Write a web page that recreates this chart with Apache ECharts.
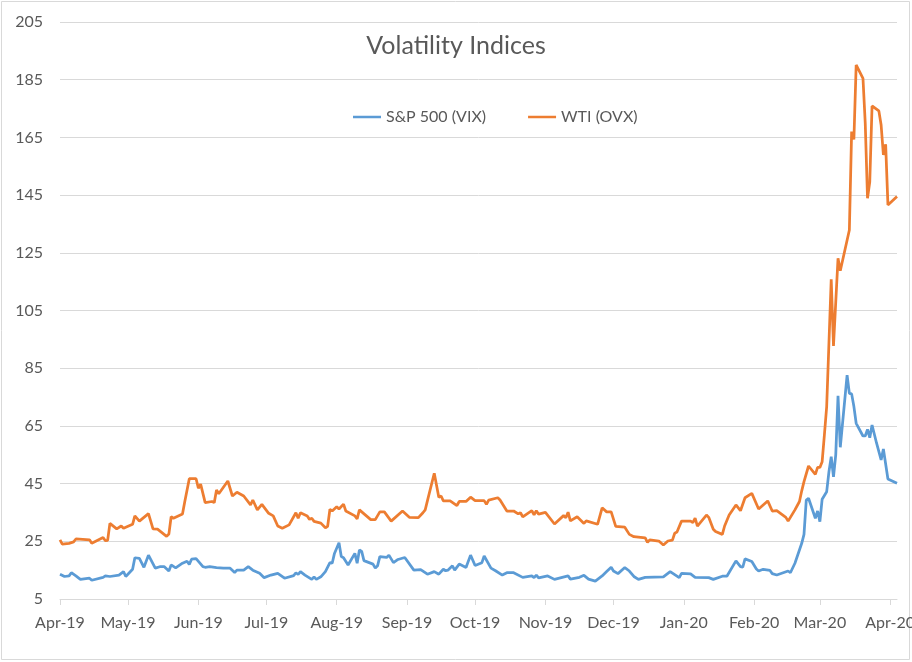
<!DOCTYPE html>
<html>
<head>
<meta charset="utf-8">
<script src="https://cdn.jsdelivr.net/npm/echarts@6/dist/echarts.min.js"></script>
<style>html,body{margin:0;padding:0;background:#fff}#chart{width:912px;height:662px}</style>
</head>
<body>
<div id="chart"></div>
<script>
const chartTitle = "Volatility Indices";
const seriesNames = ["S&P 500 (VIX)", "WTI (OVX)"];
const monthNames = ["Jan","Feb","Mar","Apr","May","Jun","Jul","Aug","Sep","Oct","Nov","Dec"];
const axisStart = "2019-04-01";
const axisEnd = "2020-04-04";

const vixDates = ["2019-04-01","2019-04-03","2019-04-05","2019-04-06","2019-04-08","2019-04-10","2019-04-14","2019-04-15","2019-04-20","2019-04-21","2019-04-23","2019-04-27","2019-04-29","2019-04-30",
"2019-05-03","2019-05-04","2019-05-06","2019-05-08","2019-05-10","2019-05-13","2019-05-15","2019-05-17","2019-05-19","2019-05-20","2019-05-22","2019-05-25","2019-05-27","2019-05-28","2019-05-29","2019-05-31",
"2019-06-03","2019-06-04","2019-06-06","2019-06-09","2019-06-12","2019-06-15","2019-06-17","2019-06-18","2019-06-21","2019-06-23","2019-06-25","2019-06-28","2019-06-30",
"2019-07-03","2019-07-06","2019-07-09","2019-07-13","2019-07-14","2019-07-15","2019-07-16","2019-07-18","2019-07-21","2019-07-22","2019-07-23","2019-07-25","2019-07-27","2019-07-29","2019-07-30","2019-07-31",
"2019-08-02","2019-08-03","2019-08-04","2019-08-06","2019-08-09","2019-08-10","2019-08-11","2019-08-12","2019-08-13","2019-08-17","2019-08-18","2019-08-19","2019-08-20","2019-08-23","2019-08-24","2019-08-26","2019-08-28","2019-08-31",
"2019-09-04","2019-09-07","2019-09-10","2019-09-13","2019-09-15","2019-09-17","2019-09-18","2019-09-19","2019-09-21","2019-09-22","2019-09-24","2019-09-27","2019-09-29",
"2019-10-01","2019-10-04","2019-10-05","2019-10-08","2019-10-10","2019-10-13","2019-10-15","2019-10-18","2019-10-22","2019-10-26","2019-10-27","2019-10-28","2019-10-29",
"2019-11-02","2019-11-05","2019-11-11","2019-11-12","2019-11-16","2019-11-18","2019-11-20","2019-11-23","2019-11-26","2019-11-28","2019-11-30",
"2019-12-01","2019-12-03","2019-12-06","2019-12-08","2019-12-10","2019-12-12","2019-12-15","2019-12-23","2019-12-24","2019-12-26","2019-12-30","2019-12-31",
"2020-01-04","2020-01-06","2020-01-12","2020-01-14","2020-01-18","2020-01-20","2020-01-24","2020-01-26","2020-01-27","2020-01-28","2020-01-31",
"2020-02-02","2020-02-03","2020-02-05","2020-02-08","2020-02-09","2020-02-11","2020-02-16","2020-02-17","2020-02-19","2020-02-22","2020-02-23","2020-02-24","2020-02-25","2020-02-28","2020-02-29",
"2020-03-01","2020-03-02","2020-03-04","2020-03-05","2020-03-06","2020-03-07","2020-03-08","2020-03-09","2020-03-10","2020-03-13","2020-03-14","2020-03-15","2020-03-16","2020-03-17","2020-03-20","2020-03-21","2020-03-22","2020-03-23","2020-03-24","2020-03-26","2020-03-28","2020-03-29","2020-03-31","2020-04-04"];
const vixValues = [13.6,12.8,13.0,14.1,13.0,11.8,12.2,11.5,12.5,13.0,12.8,13.3,14.5,12.8,
15.3,19.3,19.1,16.0,20.2,15.7,16.2,16.2,14.7,16.8,15.8,17.4,18.1,17.0,18.8,19.0,
16.2,16.0,16.2,15.9,15.7,15.7,14.2,15.0,15.0,16.2,15.0,13.9,12.4,
13.3,13.9,12.2,13.1,14.1,13.5,14.5,13.3,11.8,12.7,11.8,12.7,14.5,17.6,17.4,20.8,
24.5,19.7,19.3,16.8,20.8,17.4,22.0,21.5,18.3,17.1,15.7,16.5,19.7,19.4,20.2,17.6,18.7,19.4,
15.0,15.2,13.6,14.5,13.6,15.3,14.8,15.0,16.5,15.0,17.1,15.9,20.2,
16.6,17.6,19.9,15.7,14.8,13.3,14.1,14.1,12.5,13.0,12.4,13.3,12.3,
13.0,11.8,13.0,11.9,12.5,13.2,11.9,11.2,13.0,14.5,16.0,
14.7,13.8,15.9,14.7,12.8,11.8,12.5,12.7,13.3,14.5,12.4,13.9,
13.7,12.5,12.4,11.8,12.9,12.9,18.2,16.2,16.0,18.9,18.0,
15.4,14.7,15.3,14.9,13.8,13.3,14.7,14.1,17.4,24.3,27.4,39.3,39.9,33.0,35.5,
31.8,39.6,42.2,49.1,54.3,47.3,55.0,75.4,57.6,82.6,76.3,76.1,71.7,65.9,61.5,61.5,63.8,60.9,65.3,59.0,53.2,57.0,46.6,45.1];

const ovxDates = ["2019-04-01","2019-04-02","2019-04-05","2019-04-07","2019-04-08","2019-04-14","2019-04-15","2019-04-20","2019-04-21","2019-04-22","2019-04-23","2019-04-26","2019-04-28","2019-04-29",
"2019-05-03","2019-05-04","2019-05-06","2019-05-10","2019-05-12","2019-05-14","2019-05-18","2019-05-19","2019-05-20","2019-05-21","2019-05-25","2019-05-26","2019-05-28","2019-05-31",
"2019-06-01","2019-06-02","2019-06-04","2019-06-07","2019-06-08","2019-06-09","2019-06-10","2019-06-14","2019-06-16","2019-06-18","2019-06-21","2019-06-24","2019-06-25","2019-06-27","2019-06-29",
"2019-07-02","2019-07-04","2019-07-06","2019-07-08","2019-07-11","2019-07-14","2019-07-15","2019-07-16","2019-07-19","2019-07-20","2019-07-21","2019-07-22","2019-07-25","2019-07-27","2019-07-28","2019-07-29","2019-07-30",
"2019-08-01","2019-08-02","2019-08-04","2019-08-05","2019-08-09","2019-08-10","2019-08-11","2019-08-16","2019-08-18","2019-08-20","2019-08-22","2019-08-25","2019-08-30",
"2019-09-02","2019-09-06","2019-09-08","2019-09-09","2019-09-10","2019-09-13","2019-09-15","2019-09-16","2019-09-17","2019-09-20","2019-09-23","2019-09-24","2019-09-27","2019-09-29",
"2019-10-01","2019-10-05","2019-10-06","2019-10-07","2019-10-11","2019-10-12","2019-10-15","2019-10-18","2019-10-20","2019-10-21","2019-10-22","2019-10-26","2019-10-27","2019-10-28","2019-10-29",
"2019-11-01","2019-11-05","2019-11-09","2019-11-10","2019-11-11","2019-11-12","2019-11-15","2019-11-18","2019-11-19","2019-11-24","2019-11-26","2019-11-28","2019-11-30",
"2019-12-02","2019-12-06","2019-12-08","2019-12-10","2019-12-15","2019-12-16","2019-12-17","2019-12-21","2019-12-23","2019-12-25","2019-12-27","2019-12-28","2019-12-29","2019-12-31",
"2020-01-04","2020-01-05","2020-01-06","2020-01-07","2020-01-11","2020-01-12","2020-01-14","2020-01-15","2020-01-18","2020-01-19","2020-01-21","2020-01-24","2020-01-26","2020-01-28","2020-01-31",
"2020-02-03","2020-02-07","2020-02-09","2020-02-11","2020-02-15","2020-02-16","2020-02-19","2020-02-21","2020-02-22","2020-02-23","2020-02-25","2020-02-28","2020-02-29",
"2020-03-01","2020-03-02","2020-03-03","2020-03-04","2020-03-06","2020-03-07","2020-03-09","2020-03-10","2020-03-14","2020-03-15","2020-03-16","2020-03-17","2020-03-20","2020-03-21","2020-03-22","2020-03-23","2020-03-24","2020-03-27","2020-03-28","2020-03-29","2020-03-30","2020-03-31","2020-04-04"];
const ovxValues = [25.5,24.0,24.3,24.8,25.8,25.5,24.3,26.3,25.2,25.3,31.2,29.3,30.3,29.5,
30.9,33.8,32.0,34.6,29.3,29.2,26.7,27.5,33.5,33.0,34.5,38.7,46.7,46.7,
43.4,44.8,38.4,38.8,38.4,42.8,41.5,45.9,40.7,42.0,40.7,37.6,39.3,35.9,37.8,
34.7,33.8,30.3,29.5,30.7,34.9,33.0,34.9,33.8,32.6,33.0,31.9,31.3,29.7,30.2,36.1,35.5,
37.0,36.2,37.9,35.5,33.8,32.8,35.9,32.5,32.5,35.2,35.2,32.0,35.5,
33.3,33.2,34.9,35.9,39.1,48.6,40.3,40.7,39.0,39.0,37.4,38.8,38.8,40.3,
39.1,39.1,37.8,39.3,40.1,39.3,35.5,35.5,34.5,34.9,33.5,35.6,34.2,35.6,34.4,
35.0,31.0,33.9,33.2,35.1,32.1,33.5,31.2,32.1,30.9,36.6,35.2,35.2,
30.2,29.9,27.4,26.6,26.2,24.6,25.5,25.1,23.7,25.1,25.4,27.8,28.2,32.0,
32.0,31.5,33.0,30.3,34.1,33.3,29.2,28.4,27.4,30.3,34.1,37.6,35.6,40.1,41.6,
36.2,39.0,35.5,35.6,33.3,32.0,35.9,38.8,42.5,45.7,51.1,48.2,50.6,
50.6,52.6,62.0,71.7,115.8,92.7,123.1,118.8,132.9,167.0,164.3,190.1,185.5,169.9,143.9,149.6,175.9,174.2,169.3,158.9,162.6,141.6,144.5];

const yMin = 5, yMax = 205, yStep = 20;

const FONT = "Lato";
const TXT = "#595959";
const chart = echarts.init(document.getElementById("chart"), null, {renderer: "canvas"});
const DAY = 86400000;

chart.setOption({
  animation: false,
  backgroundColor: "#ffffff",
  textStyle: {fontFamily: FONT},
  title: {
    text: chartTitle, left: "center", top: 28,
    textStyle: {fontFamily: FONT, fontSize: 25, fontWeight: "normal", color: TXT}
  },
  legend: {
    left: 348, top: 104,
    icon: "rect",
    itemWidth: 28, itemHeight: 2.5, itemGap: 42,
    textStyle: {fontFamily: FONT, fontSize: 16, color: TXT},
    data: seriesNames
  },
  graphic: [{
    type: "rect", silent: true, z: -10,
    shape: {x: 1.5, y: 1.5, width: 908, height: 658},
    style: {fill: "none", stroke: "#d9d9d9", lineWidth: 1}
  }],
  grid: {left: 60, right: 15, top: 22, bottom: 63, containLabel: false, outerBoundsMode: "none"},
  xAxis: {
    type: "time",
    min: axisStart, max: axisEnd,
    splitNumber: 12,
    minInterval: 28 * DAY, maxInterval: 31 * DAY,
    axisLine: {show: true, lineStyle: {color: "#d9d9d9", width: 1}},
    axisTick: {show: true, length: 6, lineStyle: {color: "#d9d9d9"}},
    splitLine: {show: false},
    axisLabel: {
      color: TXT, fontFamily: FONT, fontSize: 16, margin: 16,
      hideOverlap: false,
      formatter: function (v) {
        const d = new Date(v);
        return monthNames[d.getMonth()] + "-" + String(d.getFullYear()).slice(2);
      }
    }
  },
  yAxis: {
    type: "value", min: yMin, max: yMax, interval: yStep,
    axisLine: {show: false}, axisTick: {show: false},
    splitLine: {show: true, lineStyle: {color: "#d9d9d9", width: 1}},
    axisLabel: {color: TXT, fontFamily: FONT, fontSize: 16, margin: 17}
  },
  series: [
    {
      name: seriesNames[0], type: "line", showSymbol: false, symbol: "none",
      lineStyle: {color: "#5B9BD5", width: 2.75}, itemStyle: {color: "#5B9BD5"},
      data: vixDates.map((d, i) => [d, vixValues[i]])
    },
    {
      name: seriesNames[1], type: "line", showSymbol: false, symbol: "none",
      lineStyle: {color: "#ED7D31", width: 2.75}, itemStyle: {color: "#ED7D31"},
      data: ovxDates.map((d, i) => [d, ovxValues[i]])
    }
  ]
});
</script>
</body>
</html>
